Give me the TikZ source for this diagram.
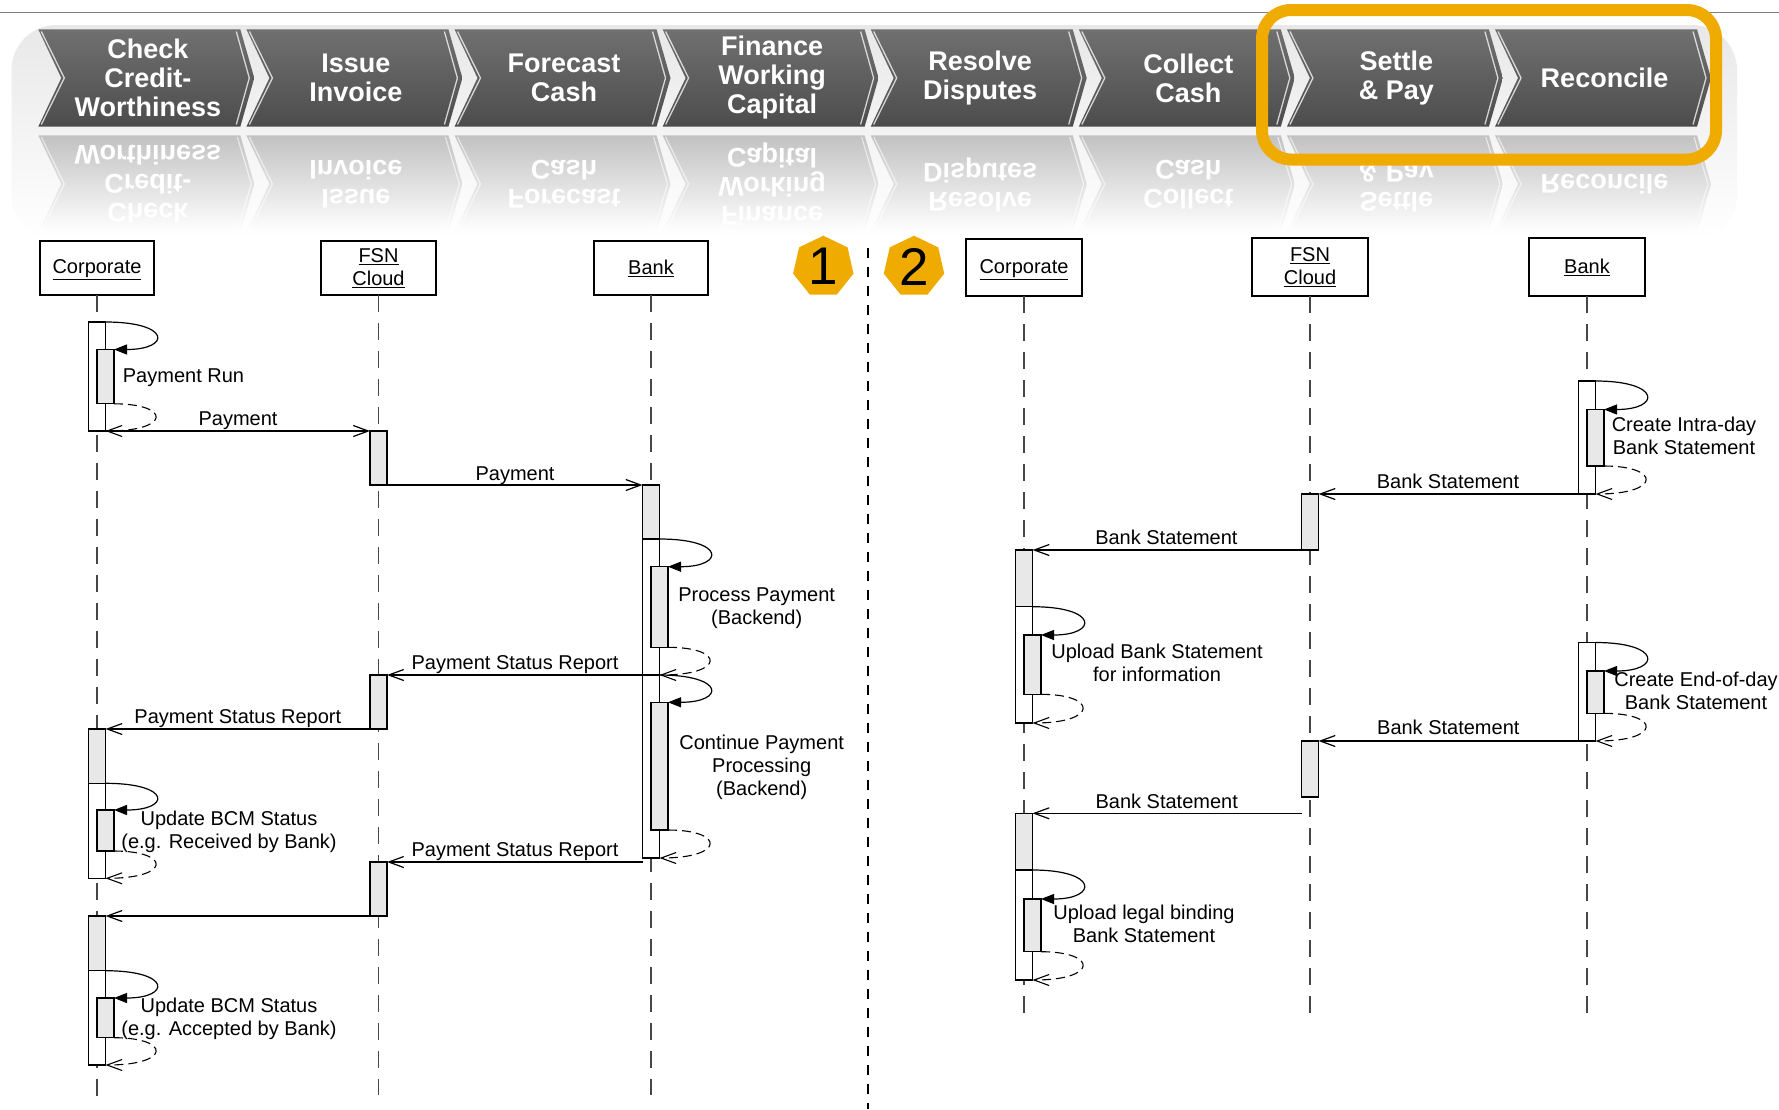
\documentclass[tikz,border=0pt]{standalone}
\usepackage{fontspec}
\setmainfont{Liberation Sans}
\usetikzlibrary{arrows.meta,shapes.geometric}

\definecolor{sapgold}{RGB}{240,171,0}
\definecolor{actgrey}{RGB}{232,232,232}
\definecolor{lifegrey}{RGB}{70,70,70}
\definecolor{rulegrey}{RGB}{128,128,128}

\tikzset{
  seqfont/.style={font=\fontsize{20}{23}\selectfont},
  hdr/.style={draw, line width=1.7pt, fill=white, inner sep=0pt, outer sep=0pt,
              align=center, seqfont},
  life/.style={lifegrey, line width=1.3pt, dash pattern=on 17pt off 11pt},
  actw/.style={draw, line width=1.2pt, fill=white, minimum width=17pt,
               inner sep=0pt, outer sep=0pt, anchor=north},
  actg/.style={actw, fill=actgrey},
  msg/.style={line width=1.2pt, -{Straight Barb[length=15pt,width=11pt]}},
  call/.style={line width=1.2pt, -{Triangle[length=13pt,width=10pt]}},
  ret/.style={line width=1.1pt, dash pattern=on 9pt off 5pt,
              -{Straight Barb[length=15pt,width=11pt]}},
  % base anchor sits on the baseline of the last line
  lbl/.style={seqfont, inner sep=0pt, anchor=base, align=center},
  lblw/.style={lbl, anchor=base west},
  badge/.style={regular polygon, regular polygon sides=7, fill=sapgold,
                minimum size=62pt, inner sep=0pt, font=\fontsize{53}{53}\selectfont},
  chevtext/.style={text=white, font=\bfseries\fontsize{27}{29}\selectfont,
                   align=center, inner sep=0pt},
  edgehl/.style={white, line width=1.3pt, opacity=0.75},
}

\begin{document}
\begin{tikzpicture}[x=1pt,y=-1pt]
\useasboundingbox (0,0) rectangle (1779,1109);
\fill[white] (0,0) rectangle (1779,1109);

% ---------- value chain banner ----------
\coordinate (ruleL) at (0,12.3);
\coordinate (ruleR) at (1779,12.3);
\draw[rulegrey, line width=1.3pt] (ruleL) -- (ruleR);
\shade[top color=black!9, bottom color=white, rounded corners=45pt]
  (11.5,25) rectangle (1737,240);

\foreach \i/\txt in {0/{Check\\Credit-\\Worthiness},1/{Issue\\Invoice},
    2/{Forecast\\Cash},3/{Finance\\Working\\Capital},4/{Resolve\\Disputes},
    5/{Collect\\Cash},6/{Settle\\\& Pay},7/{Reconcile}}{
  \pgfmathsetmacro\L{38.3+208.1*\i}
  % mirrored reflection under the step
  \shade[top color=black!24, bottom color=white]
    (\L,135.3) -- ++(202,0) -- ++(14,48.7) -- ++(-14,48.7) -- ++(-202,0)
    -- ++(23,-48.7) -- cycle;
  \draw[white, line width=1.2pt, opacity=0.6]
    ({\L+3},137) -- ({\L+26},184) -- ({\L+3},231);
  \draw[white, line width=1.2pt, opacity=0.6]
    ({\L+199},137) -- ({\L+213},184) -- ({\L+199},231);
  \node[chevtext, yscale=-1] (rt\i) at ({\L+109.5},184.5) {\txt};
  % the step itself
  \shade[top color=black!56, middle color=black!61, bottom color=black!70]
    (\L,29.3) -- ++(202,0) -- ++(14,48.7) -- ++(-14,48.7) -- ++(-202,0)
    -- ++(23,-48.7) -- cycle;
  \draw[edgehl] ({\L+3},31.5) -- ({\L+26},78) -- ({\L+3},124.5);
  \draw[edgehl] ({\L+198},31.5) -- ({\L+211},78) -- ({\L+198},124.5);
  \node[chevtext] (ct\i) at ({\L+109.5},78) {\txt};
}

% highlight of the last two steps
\draw[sapgold, line width=12pt, rounded corners=29pt] (1262,10) rectangle (1716,159.5);

% ---------- separator and scenario badges ----------
\coordinate (sepTop) at (868,248);
\coordinate (sepBot) at (868,1109);
\draw[line width=2.4pt, dash pattern=on 10pt off 9pt] (sepTop) -- (sepBot);
\node[badge] (n1) at (823.3,266.7) {1};
\node[badge] (n2) at (914,266.7) {2};

% ---------- scenario 1: payment ----------
\node[hdr, text depth=2.2pt, minimum width=114pt, minimum height=54pt] (hC1) at (97,268) {\underline{Corporate}};
\node[hdr, minimum width=115pt, minimum height=54pt] (hF1) at (378.5,268) {\underline{FSN}\\\underline{Cloud}};
\node[hdr, minimum width=113.5pt, minimum height=54pt] (hB1) at (651,268) {\underline{Bank}};
\coordinate (eC1) at (97,1105);
\coordinate (eF1) at (378.5,1095);
\coordinate (eB1) at (651,1095);
\draw[life] (hC1.south) -- (eC1);
\draw[life] (hF1.south) -- (eF1);
\draw[life] (hB1.south) -- (eB1);

\node[actw, minimum height=109pt] (c1a) at (97,322) {};
\node[actg, minimum height=54.3pt] (c1b) at (105.5,349.5) {};
\node[actg, minimum height=54pt] (f1a) at (378.5,431) {};
\node[actw, minimum height=373pt] (b1a) at (651,485) {};
\node[actg, minimum height=54pt] (b1g) at (651,485) {};
\node[actg, minimum height=80.6pt] (b1b) at (659.5,566.7) {};
\coordinate (b1r) at (659.5,675);
\node[actg, minimum height=127.7pt] (b1c) at (659.5,702.3) {};
\node[actg, minimum height=54pt] (f1b) at (378.5,675) {};
\node[actw, minimum height=149.3pt] (c1c) at (97,729) {};
\node[actg, minimum height=54.3pt] (c1cg) at (97,729) {};
\node[actg, minimum height=41pt] (c1d) at (105.5,810) {};
\node[actg, minimum height=54pt] (f1c) at (378.5,862) {};
\coordinate (b1m) at (642.5,862);
\node[actw, minimum height=149pt] (c1e) at (97,916) {};
\node[actg, minimum height=54.7pt] (c1eg) at (97,916) {};
\node[actg, minimum height=39.7pt] (c1f) at (105.5,998) {};

\draw[msg] (c1a.south east) -- (f1a.north west);
\draw[msg] (f1a.south east) -- (b1a.north west);
\draw[msg] (b1r) -- (f1b.north east);
\draw[msg] (f1b.south west) -- (c1c.north east);
\draw[msg] (b1m) -- (f1c.north east);
\draw[msg] (f1c.south west) -- (c1e.north east);

\draw[call] (c1a.north east) .. controls +(66,0) and +(57,0) .. (c1b.north east);
\draw[ret] (c1b.south east) .. controls +(57,0) and +(66,0) .. (c1a.south east);
\draw[call] (b1g.south east) .. controls +(66,0) and +(57,0) .. (b1b.north east);
\draw[ret] (b1b.south east) .. controls +(57,0) and +(66,0) .. (b1r);
\draw[call] (b1r) .. controls +(66,0) and +(57,0) .. (b1c.north east);
\draw[ret] (b1c.south east) .. controls +(57,0) and +(66,0) .. (b1a.south east);
\draw[call] (c1cg.south east) .. controls +(66,0) and +(57,0) .. (c1d.north east);
\draw[ret] (c1d.south east) .. controls +(57,0) and +(66,0) .. (c1c.south east);
\draw[call] (c1eg.south east) .. controls +(66,0) and +(57,0) .. (c1f.north east);
\draw[ret] (c1f.south east) .. controls +(57,0) and +(66,0) .. (c1e.south east);

\node[lblw] (lPR) at (122.7,382) {Payment Run};
\node[lbl] (lP1) at (238,425.5) {Payment};
\node[lbl] (lP2) at (515,480.5) {Payment};
\node[lbl] (lPP) at (756.7,624.5) {Process Payment\\(Backend)};
\node[lbl] (lS1) at (515,669.5) {Payment Status Report};
\node[lbl] (lCP) at (761.7,795) {Continue Payment\\Processing\\(Backend)};
\node[lbl] (lS2) at (237.8,723.8) {Payment Status Report};
\node[lbl] (lU1) at (229,848.5) {Update BCM Status\\(e.g. Received by Bank)};
\node[lbl] (lS3) at (515,856.3) {Payment Status Report};
\node[lbl] (lU2) at (229,1035) {Update BCM Status\\(e.g. Accepted by Bank)};

% ---------- scenario 2: bank statements ----------
\node[hdr, text depth=2.2pt, minimum width=116pt, minimum height=57pt] (hC2) at (1024,267.5) {\underline{Corporate}};
\node[hdr, minimum width=116pt, minimum height=58pt] (hF2) at (1310,267) {\underline{FSN}\\\underline{Cloud}};
\node[hdr, minimum width=116pt, minimum height=58pt] (hB2) at (1587,267) {\underline{Bank}};
\coordinate (eC2) at (1024,1018);
\coordinate (eF2) at (1310,1018);
\coordinate (eB2) at (1587,1018);
\draw[life] (hC2.south) -- (eC2);
\draw[life] (hF2.south) -- (eF2);
\draw[life] (hB2.south) -- (eB2);

\node[actw, minimum height=113pt] (b2a) at (1587,381) {};
\node[actg, minimum height=56.5pt] (b2b) at (1595.5,409.5) {};
\node[actg, minimum height=56pt] (f2a) at (1310,494) {};
\node[actw, minimum height=173pt] (c2a) at (1024,550) {};
\node[actg, minimum height=56.7pt] (c2ag) at (1024,550) {};
\node[actg, minimum height=59.3pt] (c2b) at (1032.5,635) {};
\node[actw, minimum height=98.5pt] (b2c) at (1587,642.5) {};
\node[actg, minimum height=42.3pt] (b2d) at (1595.5,671) {};
\node[actg, minimum height=56pt] (f2b) at (1310,741) {};
\coordinate (f2m) at (1301.5,813.3);
\node[actw, minimum height=166.7pt] (c2c) at (1024,813.3) {};
\node[actg, minimum height=56.7pt] (c2cg) at (1024,813.3) {};
\node[actg, minimum height=52.7pt] (c2d) at (1032.5,899) {};

\draw[msg] (b2a.south west) -- (f2a.north east);
\draw[msg] (f2a.south west) -- (c2a.north east);
\draw[msg] (b2c.south west) -- (f2b.north east);
\draw[msg] (f2m) -- (c2c.north east);

\draw[call] (b2a.north east) .. controls +(66,0) and +(57,0) .. (b2b.north east);
\draw[ret] (b2b.south east) .. controls +(57,0) and +(66,0) .. (b2a.south east);
\draw[call] (c2ag.south east) .. controls +(66,0) and +(57,0) .. (c2b.north east);
\draw[ret] (c2b.south east) .. controls +(57,0) and +(66,0) .. (c2a.south east);
\draw[call] (b2c.north east) .. controls +(66,0) and +(57,0) .. (b2d.north east);
\draw[ret] (b2d.south east) .. controls +(57,0) and +(66,0) .. (b2c.south east);
\draw[call] (c2cg.south east) .. controls +(66,0) and +(57,0) .. (c2d.north east);
\draw[ret] (c2d.south east) .. controls +(57,0) and +(66,0) .. (c2c.south east);

\node[lbl] (lCI) at (1684,454.5) {Create Intra-day\\Bank Statement};
\node[lbl] (lB1) at (1448,488.8) {Bank Statement};
\node[lbl] (lB2) at (1166.4,544.3) {Bank Statement};
\node[lbl] (lUI) at (1157,681.8) {Upload Bank Statement\\for information};
\node[lbl] (lCE) at (1696,709.5) {Create End-of-day\\Bank Statement};
\node[lbl] (lB3) at (1448.3,734.8) {Bank Statement};
\node[lbl] (lB4) at (1166.7,808.2) {Bank Statement};
\node[lbl] (lUL) at (1144,942.8) {Upload legal binding\\Bank Statement};
\end{tikzpicture}
\end{document}
